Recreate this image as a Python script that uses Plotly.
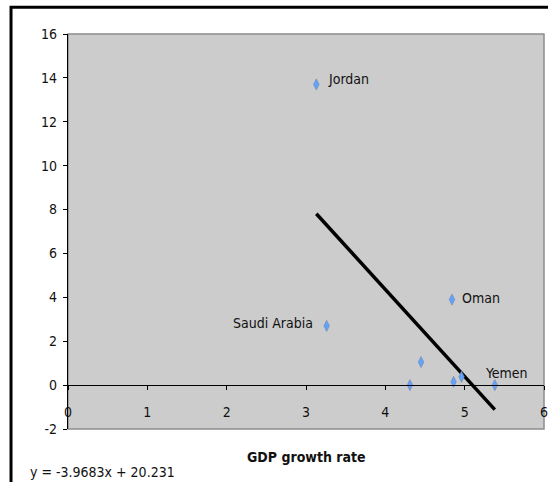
import plotly.graph_objects as go

# Data
gdp_growth = [3.13, 3.26, 4.84, 4.45, 4.31, 4.86, 4.96, 5.38]
y_values = [13.7, 2.7, 3.9, 1.05, 0.0, 0.15, 0.38, 0.0]
labels = ["Jordan", "Saudi Arabia", "Oman", "", "", "", "", "Yemen"]

# Trend line shown in the chart: y = -3.9683x + 20.231
slope = -3.9683
intercept = 20.231

x_ticks = [0, 1, 2, 3, 4, 5, 6]
y_ticks = [-2, 0, 2, 4, 6, 8, 10, 12, 14, 16]
y_tick_text = ["-2", "0", "2", "4", "6", "8", "10", "12", "14", "16"]

FONT = "DejaVu Sans Condensed, DejaVu Sans, sans-serif"

fig = go.Figure()

# trend line
x_min, x_max = min(gdp_growth), max(gdp_growth)
fig.add_trace(go.Scatter(
    x=[x_min, x_max],
    y=[slope * x_min + intercept, slope * x_max + intercept],
    mode="lines",
    line=dict(color="black", width=3.5),
    hoverinfo="skip",
    showlegend=False,
))

# points
fig.add_trace(go.Scatter(
    x=gdp_growth, y=y_values,
    mode="markers",
    marker=dict(symbol="diamond-tall", size=8, color="#5fa2ff",
                line=dict(color="#7a8aa0", width=0.6)),
    showlegend=False,
))

# labels placement (style only)
label_style = {
    "Jordan": dict(xanchor="left", xshift=10, yshift=5),
    "Saudi Arabia": dict(xanchor="right", xshift=-12, yshift=3),
    "Oman": dict(xanchor="left", xshift=8, yshift=2),
    "Yemen": dict(xanchor="left", xshift=-12, yshift=12),
}
for xv, yv, lab in zip(gdp_growth, y_values, labels):
    if lab:
        st = label_style[lab]
        fig.add_annotation(x=xv, y=yv, text=lab, showarrow=False,
                           xanchor=st["xanchor"], yanchor="middle",
                           xshift=st["xshift"], yshift=st["yshift"],
                           font=dict(family=FONT, size=14, color="#111111"))

# axis title and equation
fig.add_annotation(xref="paper", yref="paper", x=0.5, y=-0.071,
                   text="<b>GDP growth rate</b>", showarrow=False,
                   xanchor="center", yanchor="middle",
                   font=dict(family=FONT, size=14, color="#111111"))
fig.add_annotation(xref="paper", yref="paper", x=-0.084, y=-0.109,
                   text="y = -3.9683x + 20.231", showarrow=False,
                   xanchor="left", yanchor="middle",
                   font=dict(family=FONT, size=14, color="#111111"))

# plot area border (gray)
fig.add_shape(type="rect", xref="paper", yref="paper", x0=0, y0=0, x1=1, y1=1,
              line=dict(color="#8c8c8c", width=1.5), layer="below")
# outer chart border (black)
fig.add_shape(type="rect", xref="paper", yref="paper",
              x0=-0.1197, y0=-0.145, x1=1.08, y1=1.068,
              line=dict(color="black", width=3))

fig.update_layout(
    width=548, height=482,
    margin=dict(l=68, r=4, t=34, b=53),
    paper_bgcolor="white",
    plot_bgcolor="#cccccc",
    font=dict(family=FONT, size=14, color="#111111"),
    xaxis=dict(
        range=[0, 6], tickvals=x_ticks, showgrid=False, zeroline=False,
        anchor="free", position=2 / 18, automargin=False,
        showline=True, linecolor="black", linewidth=1.2,
        ticks="outside", ticklen=4, tickcolor="black",
        ticklabelstandoff=10, ticklabeloverflow="allow",
        tickfont=dict(family=FONT, size=14, color="#111111"),
    ),
    yaxis=dict(
        range=[-2, 16], tickvals=y_ticks, ticktext=y_tick_text,
        showgrid=False, zeroline=False, automargin=False,
        showline=True, linecolor="black", linewidth=1.2,
        ticks="outside", ticklen=4, tickcolor="black",
        ticklabelstandoff=3,
        tickfont=dict(family=FONT, size=14, color="#111111"),
    ),
)

fig.write_html("out.html")
